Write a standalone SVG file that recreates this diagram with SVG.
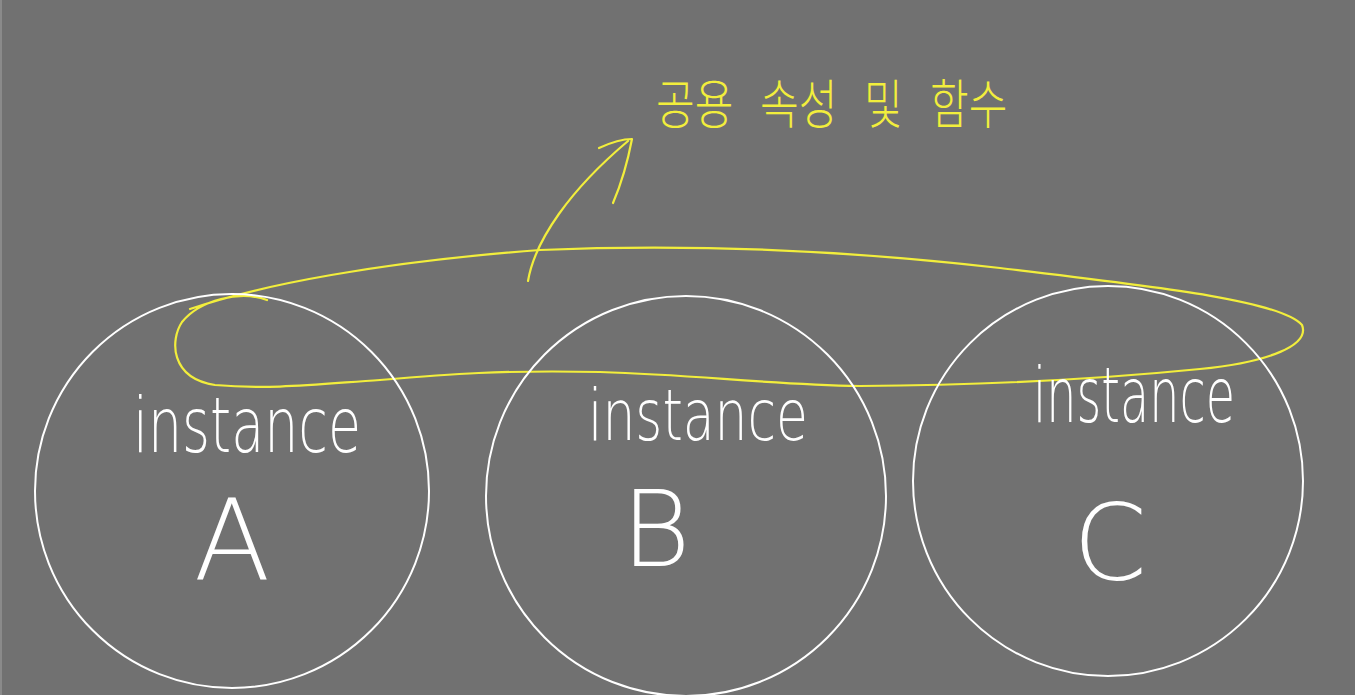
<svg xmlns="http://www.w3.org/2000/svg" width="1355" height="695" viewBox="0 0 1355 695">
<style>
.circ{fill:none;stroke:#ffffff;stroke-width:2}
.yl{fill:none;stroke:#f2ee3c;stroke-width:2.2;stroke-linecap:round;stroke-linejoin:round}
.lbl{font-family:"DejaVu Sans","Liberation Sans",sans-serif;font-weight:200;fill:#ffffff}
.kr{font-family:"Noto Sans CJK KR",sans-serif;font-weight:300;fill:#f2ee3c;font-size:42px}
</style>
<rect x="0" y="0" width="1355" height="695" fill="#717171"/>
<rect x="0" y="0" width="2" height="695" fill="#8a8a8a"/>
<g id="title" transform="translate(0,124) scale(1,1.27)">
<text class="kr" x="656" y="0">공용</text>
<text class="kr" x="760" y="0">속성</text>
<text class="kr" x="864" y="0">및</text>
<text class="kr" x="930" y="0">함수</text>
</g>
<g id="shared-group">
<path class="yl" d="M190 309 C260 285 380 262 540 250 C700 243 860 252 1000 268 C1150 286 1280 300 1302 325 C1310 345 1270 362 1200 369 C1100 379 1000 385 860 386 C760 384 700 375 600 372 C500 370 450 374 380 380 C320 384 270 390 215 385 C170 378 170 340 182 322 C200 300 240 290 267 300"/>
</g>
<g id="instance-a">
<circle class="circ" cx="232" cy="491" r="197"/>
<text class="lbl" x="133" y="452" font-size="76" textLength="228" lengthAdjust="spacingAndGlyphs">instance</text>
<text class="lbl" x="232" y="580" font-size="112" text-anchor="middle">A</text>
</g>
<g id="instance-b">
<circle class="circ" cx="686" cy="496" r="200"/>
<text class="lbl" x="588" y="440" font-size="72" textLength="220" lengthAdjust="spacingAndGlyphs">instance</text>
<text class="lbl" x="656" y="566" font-size="106" text-anchor="middle">B</text>
</g>
<g id="instance-c">
<circle class="circ" cx="1108" cy="481" r="195"/>
<text class="lbl" x="1033" y="422" font-size="76" textLength="202" lengthAdjust="spacingAndGlyphs">instance</text>
<text class="lbl" x="1110" y="580" font-size="106" text-anchor="middle">C</text>
</g>
<g id="connectors">
<path class="yl" d="M528 281 C535 240 570 190 628 141"/>
<path class="yl" d="M599 148 C612 142 622 139 632 139 C628 160 622 182 613 203"/>
</g>
</svg>
